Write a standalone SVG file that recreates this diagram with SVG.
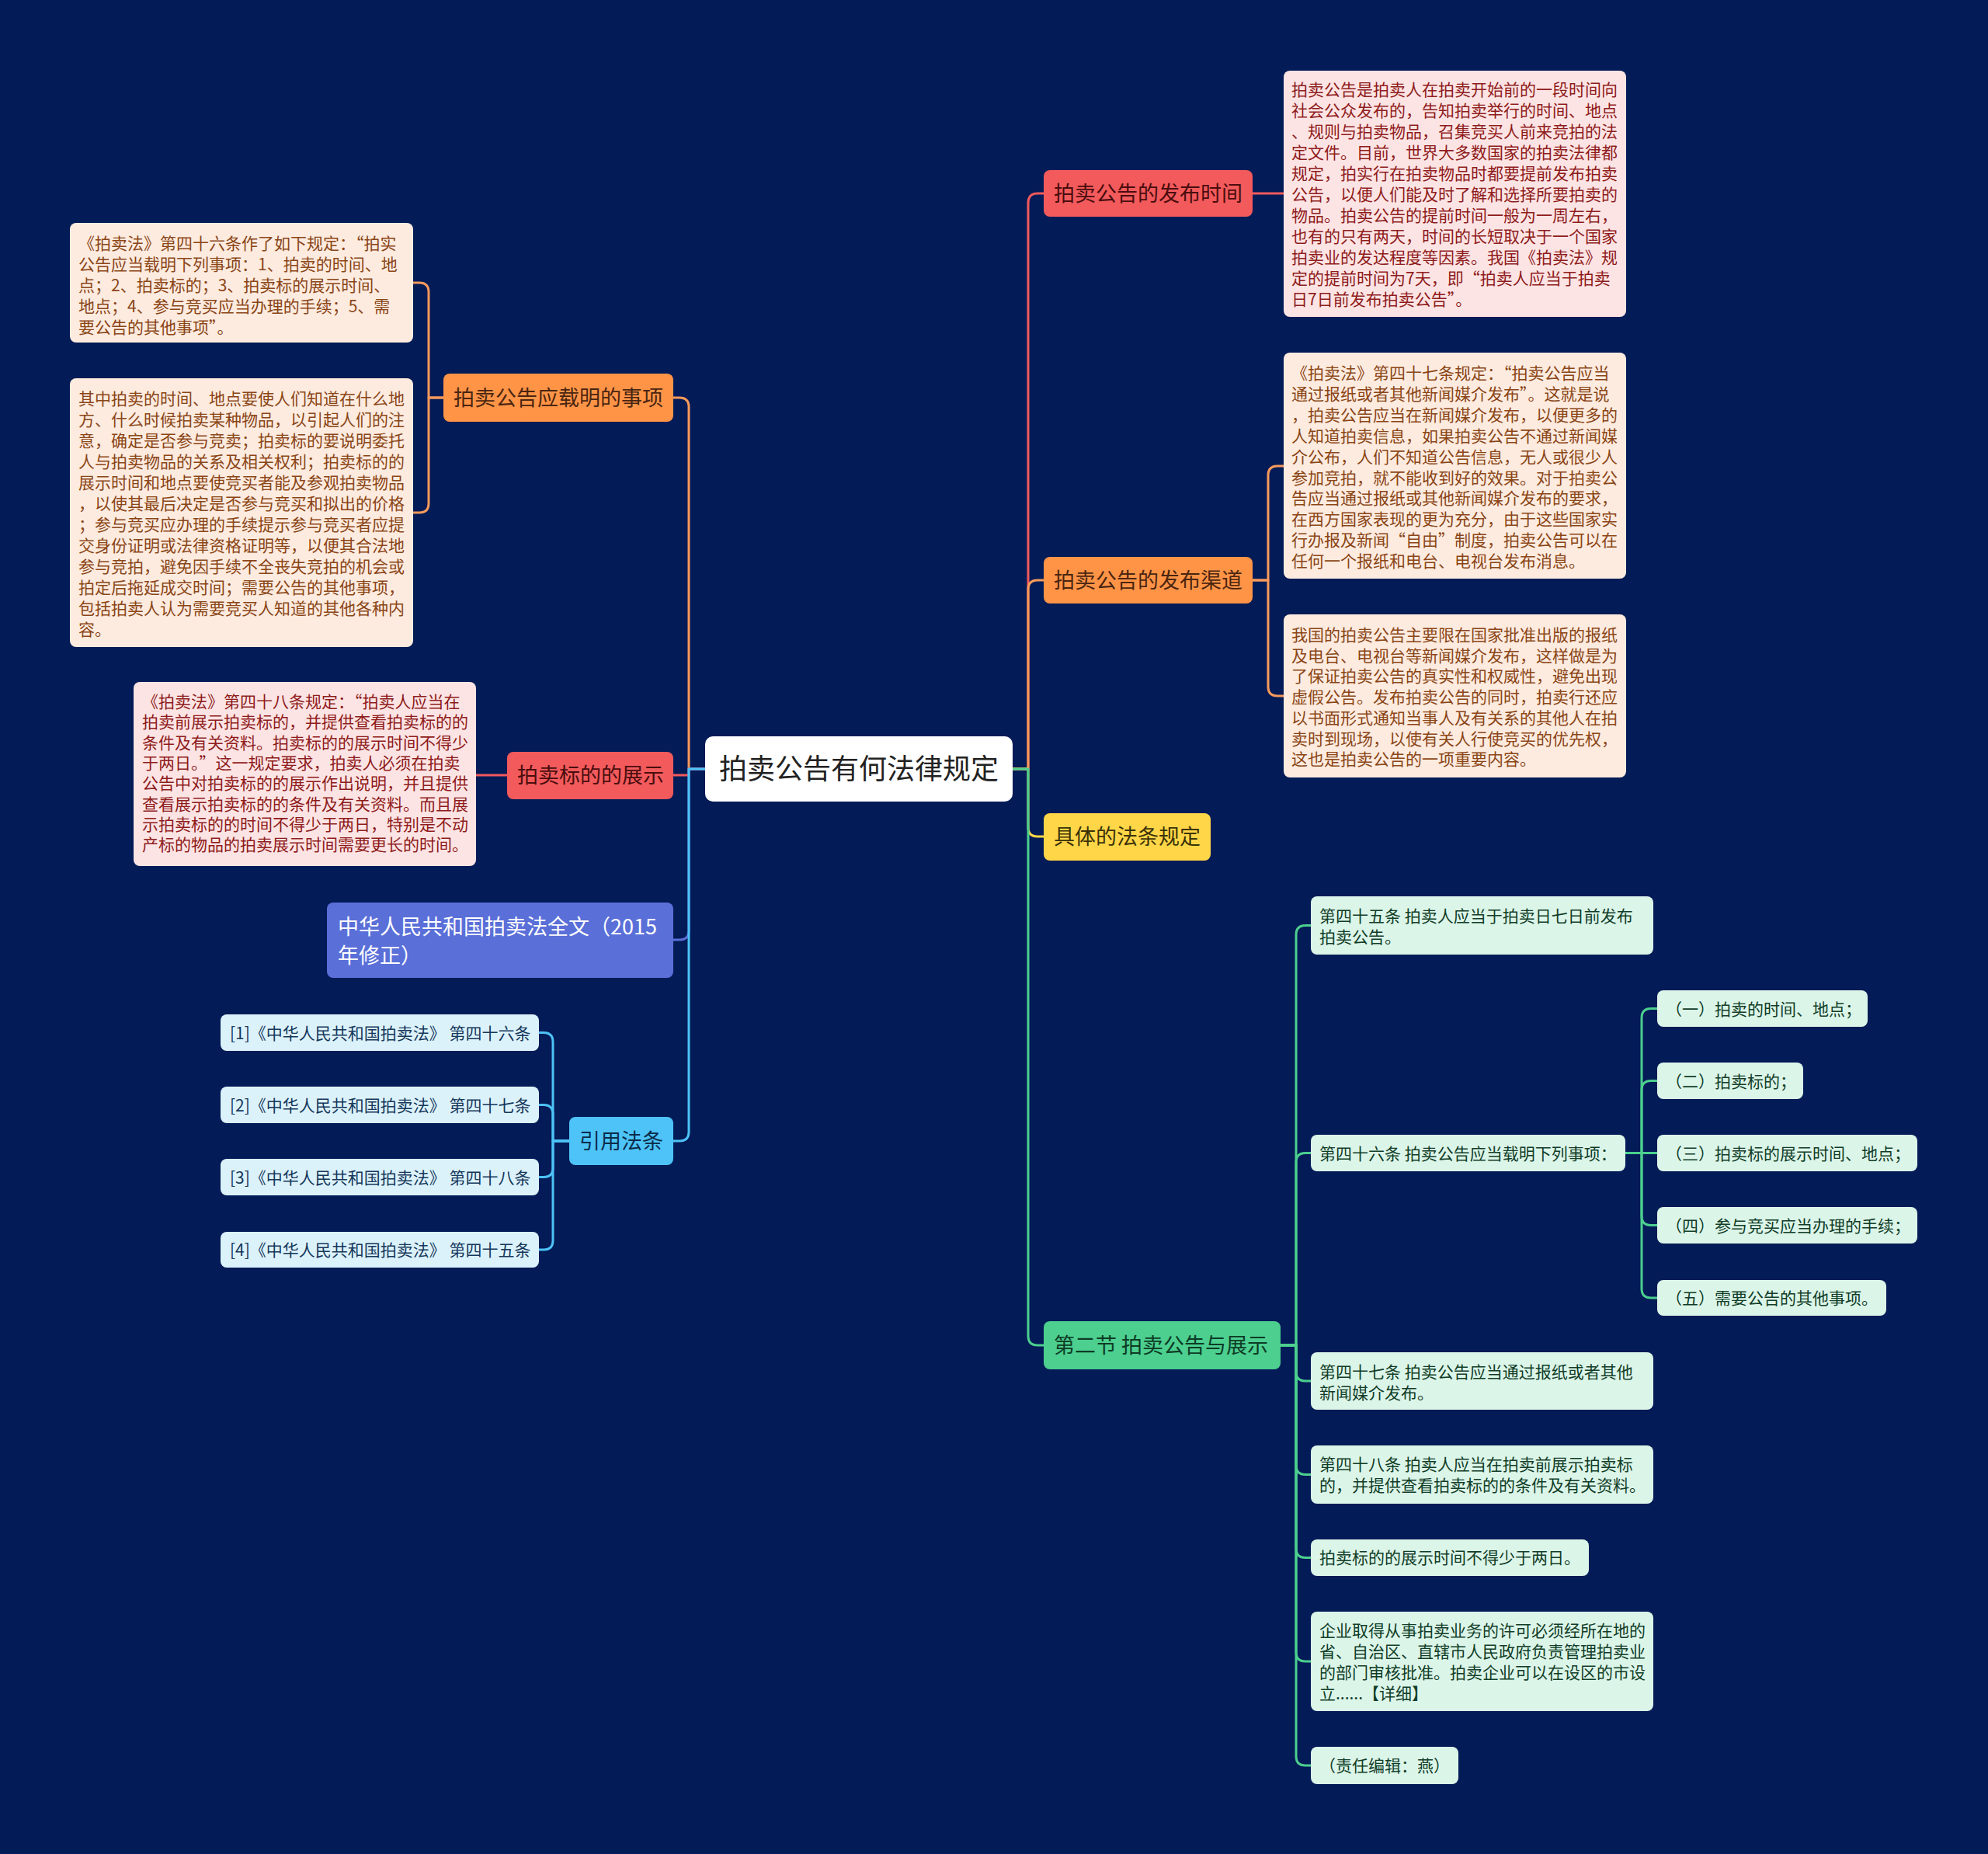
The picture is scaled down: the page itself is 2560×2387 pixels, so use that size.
<svg xmlns="http://www.w3.org/2000/svg" width="2560" height="2387" viewBox="0 0 2560 2387">
<style>
text{font-family:"Noto Sans CJK SC","Noto Sans",sans-serif;}
.c{fill:none;stroke-width:3;stroke-linejoin:round;stroke-linecap:round}
.f21{font-size:21px}
.f27{font-size:27px}
.f36{font-size:36px}
.lr{fill:#fde4e4}.tr{fill:#8e1b1b}
.lo{fill:#fdebdf}.to{fill:#8a4516}
.lg{fill:#dcf5e9}.tg{fill:#103d27}
.lb{fill:#dcf2fb}.tb{fill:#14375a}
</style>
<rect width="2560" height="2387" fill="#031b56"/>
<g id="connectors">
<path class="c" stroke="#f25a5c" d="M1304 990 H1324 V261 Q1324 249 1336 249 H1344"/>
<path class="c" stroke="#f79a5c" d="M1304 990 H1324 V759 Q1324 747 1336 747 H1344"/>
<path class="c" stroke="#ffd647" d="M1304 990 H1324 V1065 Q1324 1077 1336 1077 H1344"/>
<path class="c" stroke="#4ccf8f" d="M1304 990 H1324 V1720 Q1324 1732 1336 1732 H1344"/>
<path class="c" stroke="#f79a5c" d="M908 990 H887 V524 Q887 512 875 512 H867"/>
<path class="c" stroke="#f25a5c" d="M908 990 H887 V998 H867"/>
<path class="c" stroke="#5a6fd8" d="M908 990 H887 V1198 Q887 1210 875 1210 H867"/>
<path class="c" stroke="#4dc3f7" d="M908 990 H887 V1457 Q887 1469 875 1469 H867"/>
<path class="c" stroke="#f25a5c" d="M1613 249 H1653"/>
<path class="c" stroke="#f79a5c" d="M1613 747 H1633 V612 Q1633 600 1645 600 H1653"/>
<path class="c" stroke="#f79a5c" d="M1613 747 H1633 V884 Q1633 896 1645 896 H1653"/>
<path class="c" stroke="#f79a5c" d="M571 512 H552 V376 Q552 364 540 364 H532"/>
<path class="c" stroke="#f79a5c" d="M571 512 H552 V648 Q552 660 540 660 H532"/>
<path class="c" stroke="#f25a5c" d="M653 998 H613"/>
<path class="c" stroke="#4dc3f7" d="M733 1469 H712 V1341.5 Q712 1329.5 700 1329.5 H694"/>
<path class="c" stroke="#4dc3f7" d="M733 1469 H712 V1434.5 Q712 1422.5 700 1422.5 H694"/>
<path class="c" stroke="#4dc3f7" d="M733 1469 H712 V1503.5 Q712 1515.5 700 1515.5 H694"/>
<path class="c" stroke="#4dc3f7" d="M733 1469 H712 V1597 Q712 1609 700 1609 H694"/>
<path class="c" stroke="#4ccf8f" d="M1649 1732 H1669 V1203.5 Q1669 1191.5 1681 1191.5 H1688"/>
<path class="c" stroke="#4ccf8f" d="M1649 1732 H1669 V1496.5 Q1669 1484.5 1681 1484.5 H1688"/>
<path class="c" stroke="#4ccf8f" d="M1649 1732 H1669 V1766 Q1669 1778 1681 1778 H1688"/>
<path class="c" stroke="#4ccf8f" d="M1649 1732 H1669 V1886.5 Q1669 1898.5 1681 1898.5 H1688"/>
<path class="c" stroke="#4ccf8f" d="M1649 1732 H1669 V1993.5 Q1669 2005.5 1681 2005.5 H1688"/>
<path class="c" stroke="#4ccf8f" d="M1649 1732 H1669 V2127 Q1669 2139 1681 2139 H1688"/>
<path class="c" stroke="#4ccf8f" d="M1649 1732 H1669 V2261 Q1669 2273 1681 2273 H1688"/>
<path class="c" stroke="#4ccf8f" d="M2093 1484.5 H2114 V1310.5 Q2114 1298.5 2126 1298.5 H2134"/>
<path class="c" stroke="#4ccf8f" d="M2093 1484.5 H2114 V1403.5 Q2114 1391.5 2126 1391.5 H2134"/>
<path class="c" stroke="#4ccf8f" d="M2093 1484.5 H2134"/>
<path class="c" stroke="#4ccf8f" d="M2093 1484.5 H2114 V1565.5 Q2114 1577.5 2126 1577.5 H2134"/>
<path class="c" stroke="#4ccf8f" d="M2093 1484.5 H2114 V1659 Q2114 1671 2126 1671 H2134"/>
</g>

<g id="root">
<rect x="908" y="948" width="396" height="84" rx="10" fill="#ffffff"/>
<text class="f36" x="1106" y="1003" text-anchor="middle" fill="#222222">拍卖公告有何法律规定</text>
</g>

<g id="n-time">
<rect x="1344" y="219" width="269" height="60" rx="8" fill="#f25a5c"/>
<text class="f27" x="1357" y="259" fill="#4a0d0d">拍卖公告的发布时间</text>
</g>
<g id="n-time-1">
<rect x="1653" y="91" width="441" height="317" rx="8" class="lr"/>
<text class="f21 tr" x="1663" y="123"><tspan x="1663">拍卖公告是拍卖人在拍卖开始前的一段时间向</tspan><tspan x="1663" dy="27">社会公众发布的，告知拍卖举行的时间、地点</tspan><tspan x="1663" dy="27">、规则与拍卖物品，召集竞买人前来竞拍的法</tspan><tspan x="1663" dy="27">定文件。目前，世界大多数国家的拍卖法律都</tspan><tspan x="1663" dy="27">规定，拍实行在拍卖物品时都要提前发布拍卖</tspan><tspan x="1663" dy="27">公告，以便人们能及时了解和选择所要拍卖的</tspan><tspan x="1663" dy="27">物品。拍卖公告的提前时间一般为一周左右，</tspan><tspan x="1663" dy="27">也有的只有两天，时间的长短取决于一个国家</tspan><tspan x="1663" dy="27">拍卖业的发达程度等因素。我国《拍卖法》规</tspan><tspan x="1663" dy="27">定的提前时间为7天，即“拍卖人应当于拍卖</tspan><tspan x="1663" dy="27">日7日前发布拍卖公告”。</tspan></text>
</g>

<g id="n-channel">
<rect x="1344" y="717" width="269" height="60" rx="8" fill="#ff9447"/>
<text class="f27" x="1357" y="757" fill="#4a2510">拍卖公告的发布渠道</text>
</g>
<g id="n-channel-1">
<rect x="1653" y="454" width="441" height="291" rx="8" class="lo"/>
<text class="f21 to" x="1663" y="488"><tspan x="1663">《拍卖法》第四十七条规定：“拍卖公告应当</tspan><tspan x="1663" dy="26.9">通过报纸或者其他新闻媒介发布”。这就是说</tspan><tspan x="1663" dy="26.9">，拍卖公告应当在新闻媒介发布，以便更多的</tspan><tspan x="1663" dy="26.9">人知道拍卖信息，如果拍卖公告不通过新闻媒</tspan><tspan x="1663" dy="26.9">介公布，人们不知道公告信息，无人或很少人</tspan><tspan x="1663" dy="26.9">参加竞拍，就不能收到好的效果。对于拍卖公</tspan><tspan x="1663" dy="26.9">告应当通过报纸或其他新闻媒介发布的要求，</tspan><tspan x="1663" dy="26.9">在西方国家表现的更为充分，由于这些国家实</tspan><tspan x="1663" dy="26.9">行办报及新闻“自由”制度，拍卖公告可以在</tspan><tspan x="1663" dy="26.9">任何一个报纸和电台、电视台发布消息。</tspan></text>
</g>
<g id="n-channel-2">
<rect x="1653" y="791" width="441" height="210" rx="8" class="lo"/>
<text class="f21 to" x="1663" y="825"><tspan x="1663">我国的拍卖公告主要限在国家批准出版的报纸</tspan><tspan x="1663" dy="26.7">及电台、电视台等新闻媒介发布，这样做是为</tspan><tspan x="1663" dy="26.7">了保证拍卖公告的真实性和权威性，避免出现</tspan><tspan x="1663" dy="26.7">虚假公告。发布拍卖公告的同时，拍卖行还应</tspan><tspan x="1663" dy="26.7">以书面形式通知当事人及有关系的其他人在拍</tspan><tspan x="1663" dy="26.7">卖时到现场，以使有关人行使竞买的优先权，</tspan><tspan x="1663" dy="26.7">这也是拍卖公告的一项重要内容。</tspan></text>
</g>

<g id="n-law">
<rect x="1344" y="1047" width="215" height="61" rx="8" fill="#ffd647"/>
<text class="f27" x="1357" y="1087" fill="#3b3208">具体的法条规定</text>
</g>

<g id="n-sec2">
<rect x="1344" y="1701" width="305" height="62" rx="8" fill="#4ccf8f"/>
<text class="f27" x="1357" y="1742" fill="#0d3b25">第二节 拍卖公告与展示</text>
</g>
<g id="n-a45">
<rect x="1688" y="1154" width="441" height="75" rx="8" class="lg"/>
<text class="f21 tg" x="1699" y="1187"><tspan x="1699">第四十五条 拍卖人应当于拍卖日七日前发布</tspan><tspan x="1699" dy="27">拍卖公告。</tspan></text>
</g>
<g id="n-a46">
<rect x="1688" y="1461" width="405" height="47" rx="8" class="lg"/>
<text class="f21 tg" x="1699" y="1493">第四十六条 拍卖公告应当载明下列事项：</text>
</g>
<g id="n-a46-1">
<rect x="2134" y="1275" width="271" height="47" rx="8" class="lg"/>
<text class="f21 tg" x="2145" y="1306.5">（一）拍卖的时间、地点；</text>
</g>
<g id="n-a46-2">
<rect x="2134" y="1368" width="188" height="47" rx="8" class="lg"/>
<text class="f21 tg" x="2145" y="1399.5">（二）拍卖标的；</text>
</g>
<g id="n-a46-3">
<rect x="2134" y="1461" width="335" height="47" rx="8" class="lg"/>
<text class="f21 tg" x="2145" y="1492.5">（三）拍卖标的展示时间、地点；</text>
</g>
<g id="n-a46-4">
<rect x="2134" y="1554" width="335" height="47" rx="8" class="lg"/>
<text class="f21 tg" x="2145" y="1585.5">（四）参与竞买应当办理的手续；</text>
</g>
<g id="n-a46-5">
<rect x="2134" y="1648" width="295" height="46" rx="8" class="lg"/>
<text class="f21 tg" x="2145" y="1679">（五）需要公告的其他事项。</text>
</g>
<g id="n-a47">
<rect x="1688" y="1741" width="441" height="74" rx="8" class="lg"/>
<text class="f21 tg" x="1699" y="1774"><tspan x="1699">第四十七条 拍卖公告应当通过报纸或者其他</tspan><tspan x="1699" dy="27">新闻媒介发布。</tspan></text>
</g>
<g id="n-a48">
<rect x="1688" y="1861" width="441" height="75" rx="8" class="lg"/>
<text class="f21 tg" x="1699" y="1893"><tspan x="1699">第四十八条 拍卖人应当在拍卖前展示拍卖标</tspan><tspan x="1699" dy="27">的，并提供查看拍卖标的的条件及有关资料。</tspan></text>
</g>
<g id="n-two-days">
<rect x="1688" y="1982" width="358" height="47" rx="8" class="lg"/>
<text class="f21 tg" x="1699" y="2013">拍卖标的的展示时间不得少于两日。</text>
</g>
<g id="n-company">
<rect x="1688" y="2075" width="441" height="128" rx="8" class="lg"/>
<text class="f21 tg" x="1699" y="2107"><tspan x="1699">企业取得从事拍卖业务的许可必须经所在地的</tspan><tspan x="1699" dy="27">省、自治区、直辖市人民政府负责管理拍卖业</tspan><tspan x="1699" dy="27">的部门审核批准。拍卖企业可以在设区的市设</tspan><tspan x="1699" dy="27">立......【详细】</tspan></text>
</g>
<g id="n-editor">
<rect x="1688" y="2249" width="190" height="48" rx="8" class="lg"/>
<text class="f21 tg" x="1699" y="2281">（责任编辑：燕）</text>
</g>

<g id="n-items">
<rect x="571" y="481" width="296" height="62" rx="8" fill="#ff9447"/>
<text class="f27" x="584" y="522" fill="#4a2510">拍卖公告应载明的事项</text>
</g>
<g id="n-items-1">
<rect x="90" y="287" width="442" height="154" rx="8" class="lo"/>
<text class="f21 to" x="101" y="321"><tspan x="101">《拍卖法》第四十六条作了如下规定：“拍实</tspan><tspan x="101" dy="27">公告应当载明下列事项：1、拍卖的时间、地</tspan><tspan x="101" dy="27">点；2、拍卖标的；3、拍卖标的展示时间、</tspan><tspan x="101" dy="27">地点；4、参与竞买应当办理的手续；5、需</tspan><tspan x="101" dy="27">要公告的其他事项”。</tspan></text>
</g>
<g id="n-items-2">
<rect x="90" y="487" width="442" height="346" rx="8" class="lo"/>
<text class="f21 to" x="101" y="521"><tspan x="101">其中拍卖的时间、地点要使人们知道在什么地</tspan><tspan x="101" dy="27">方、什么时候拍卖某种物品，以引起人们的注</tspan><tspan x="101" dy="27">意，确定是否参与竞卖；拍卖标的要说明委托</tspan><tspan x="101" dy="27">人与拍卖物品的关系及相关权利；拍卖标的的</tspan><tspan x="101" dy="27">展示时间和地点要使竞买者能及参观拍卖物品</tspan><tspan x="101" dy="27">，以使其最后决定是否参与竞买和拟出的价格</tspan><tspan x="101" dy="27">；参与竞买应办理的手续提示参与竞买者应提</tspan><tspan x="101" dy="27">交身份证明或法律资格证明等，以便其合法地</tspan><tspan x="101" dy="27">参与竞拍，避免因手续不全丧失竞拍的机会或</tspan><tspan x="101" dy="27">拍定后拖延成交时间；需要公告的其他事项，</tspan><tspan x="101" dy="27">包括拍卖人认为需要竞买人知道的其他各种内</tspan><tspan x="101" dy="27">容。</tspan></text>
</g>

<g id="n-show">
<rect x="653" y="968" width="214" height="61" rx="8" fill="#f25a5c"/>
<text class="f27" x="666" y="1008" fill="#4a0d0d">拍卖标的的展示</text>
</g>
<g id="n-show-1">
<rect x="172" y="878" width="441" height="237" rx="8" class="lr"/>
<text class="f21 tr" x="183" y="911"><tspan x="183">《拍卖法》第四十八条规定：“拍卖人应当在</tspan><tspan x="183" dy="26.3">拍卖前展示拍卖标的，并提供查看拍卖标的的</tspan><tspan x="183" dy="26.3">条件及有关资料。拍卖标的的展示时间不得少</tspan><tspan x="183" dy="26.3">于两日。”这一规定要求，拍卖人必须在拍卖</tspan><tspan x="183" dy="26.3">公告中对拍卖标的的展示作出说明，并且提供</tspan><tspan x="183" dy="26.3">查看展示拍卖标的的条件及有关资料。而且展</tspan><tspan x="183" dy="26.3">示拍卖标的的时间不得少于两日，特别是不动</tspan><tspan x="183" dy="26.3">产标的物品的拍卖展示时间需要更长的时间。</tspan></text>
</g>

<g id="n-fulltext">
<rect x="421" y="1162" width="446" height="97" rx="8" fill="#5a6fd8"/>
<text class="f27" x="435" y="1203" fill="#ffffff"><tspan x="435">中华人民共和国拍卖法全文（2015</tspan><tspan x="435" dy="37">年修正）</tspan></text>
</g>

<g id="n-cite">
<rect x="733" y="1438" width="134" height="62" rx="8" fill="#4dc3f7"/>
<text class="f27" x="746" y="1479" fill="#0b2b4a">引用法条</text>
</g>
<g id="n-cite-1">
<rect x="284" y="1306" width="410" height="47" rx="8" class="lb"/>
<text class="f21 tb" x="296" y="1337.5">[1]《中华人民共和国拍卖法》 第四十六条</text>
</g>
<g id="n-cite-2">
<rect x="284" y="1399" width="410" height="47" rx="8" class="lb"/>
<text class="f21 tb" x="296" y="1430.5">[2]《中华人民共和国拍卖法》 第四十七条</text>
</g>
<g id="n-cite-3">
<rect x="284" y="1492" width="410" height="47" rx="8" class="lb"/>
<text class="f21 tb" x="296" y="1523.5">[3]《中华人民共和国拍卖法》 第四十八条</text>
</g>
<g id="n-cite-4">
<rect x="284" y="1586" width="410" height="46" rx="8" class="lb"/>
<text class="f21 tb" x="296" y="1617">[4]《中华人民共和国拍卖法》 第四十五条</text>
</g>
</svg>
